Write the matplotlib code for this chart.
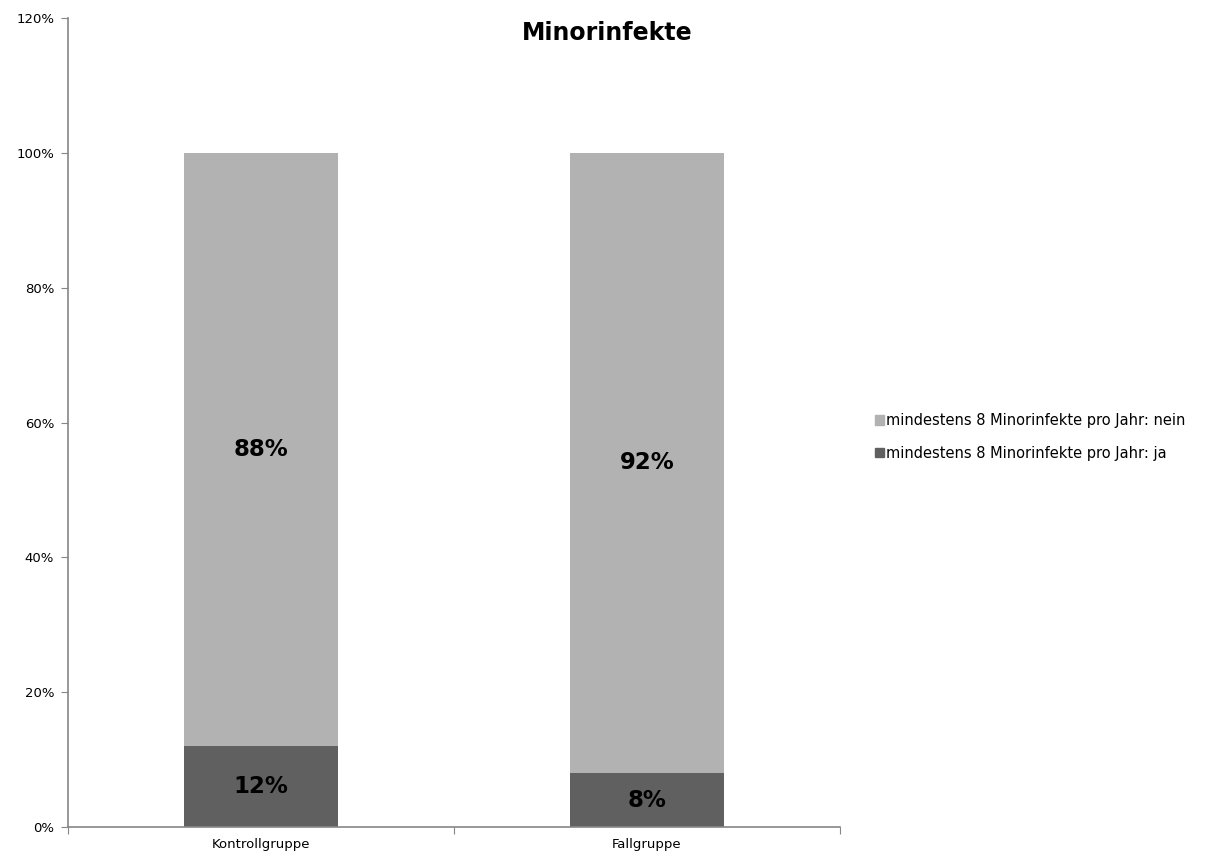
import matplotlib
matplotlib.use("Agg")
import matplotlib.pyplot as plt
from matplotlib.ticker import FuncFormatter
from matplotlib.patches import Patch

categories = ["Kontrollgruppe", "Fallgruppe"]
ja_values = [12, 8]
nein_values = [88, 92]
series_labels = ["mindestens 8 Minorinfekte pro Jahr: nein",
                 "mindestens 8 Minorinfekte pro Jahr: ja"]
title = "Minorinfekte"

plt.rcParams['font.family'] = ['DejaVu Sans']
c_nein = "#b2b2b2"
c_ja = "#606060"
axis_col = "#868686"

fig = plt.figure(figsize=(12.06, 8.63), dpi=100)
ax = fig.add_axes([68/1206, 36/863, (840-68)/1206, (827-18)/863])

x = [0.5, 1.5]
ax.bar(x, ja_values, width=0.4, color=c_ja)
ax.bar(x, nein_values, width=0.4, bottom=ja_values, color=c_nein)

for xi, j, n in zip(x, ja_values, nein_values):
    ax.text(xi, j/2, f"{j}%", ha="center", va="center", fontsize=16.5, fontweight="bold", color="black")
    ax.text(xi, j + n/2, f"{n}%", ha="center", va="center", fontsize=16.5, fontweight="bold", color="black")

ax.set_xlim(0, 2)
ax.set_ylim(0, 120)
ax.set_yticks(range(0, 121, 20))
ax.yaxis.set_major_formatter(FuncFormatter(lambda v, p: f"{int(v)}%"))
ax.set_xticks([0, 1, 2])
ax.set_xticklabels([])
ax.set_xticks(x, minor=True)
ax.set_xticklabels(categories, minor=True)
ax.tick_params(axis='x', which='minor', length=0, labelsize=9.5, pad=8)
ax.tick_params(axis='x', which='major', length=5, color=axis_col, direction='out')
ax.tick_params(axis='y', length=5, color=axis_col, labelsize=9.5, pad=5)
for s in ["top", "right"]:
    ax.spines[s].set_visible(False)
for s in ["left", "bottom"]:
    ax.spines[s].set_color(axis_col)
    ax.spines[s].set_linewidth(1.2)

fig.text(607/1206, 1 - 33/863, title, ha="center", va="center", fontsize=17, fontweight="bold")

handles = [Patch(color=c_nein), Patch(color=c_ja)]
leg = fig.legend(handles, series_labels, loc="center left", bbox_to_anchor=(869/1206, 1 - 437/863),
                 frameon=False, fontsize=10.5, handlelength=0.6, handleheight=0.6,
                 handletextpad=0.2, labelspacing=1.2, borderaxespad=0)

fig.savefig("out.png", dpi=100)
